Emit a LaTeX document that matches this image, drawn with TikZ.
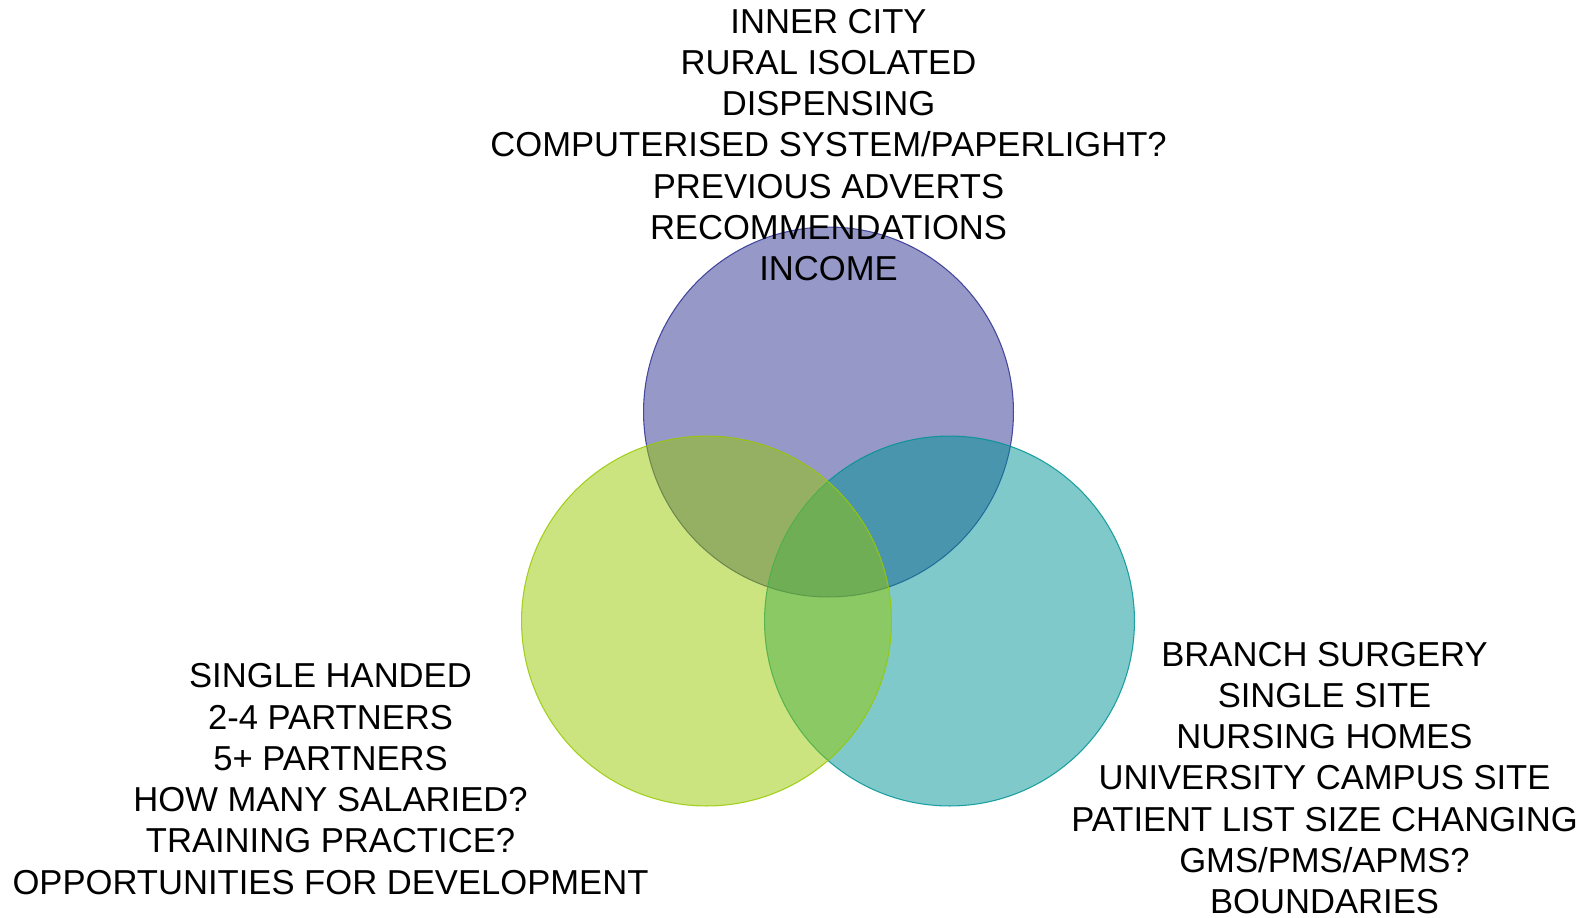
\documentclass[tikz,border=0pt]{standalone}
\usepackage{fontspec}
\setmainfont{Liberation Sans}
\usetikzlibrary{positioning}
\definecolor{plum}{HTML}{2D3191}
\definecolor{lime}{HTML}{97C900}
\definecolor{lagoon}{HTML}{009395}

\tikzset{
  disc/.style={fill=#1,draw=#1,fill opacity=.5,draw opacity=.85,line width=.6pt},
  label text/.style={align=center,font=\fontsize{19.7}{23.5}\selectfont}
}

\begin{document}
\begin{tikzpicture}[x=0.02cm,y=-0.02cm]
\useasboundingbox (0,0) rectangle (1594,917);
% three sets, top one first so the others lie over it
\path[disc=plum] (828.5,412) circle[radius=3.7cm];
\path[disc=lagoon] (949.5,621) circle[radius=3.7cm];
\path[disc=lime] (706.5,621) circle[radius=3.7cm];
% lists beside each set
\node[label text] (location) at (828.5,145) {INNER CITY\\RURAL ISOLATED\\DISPENSING\\COMPUTERISED SYSTEM/PAPERLIGHT?\\PREVIOUS ADVERTS\\RECOMMENDATIONS\\INCOME};
\node[label text] (partners) at (330.5,779) {SINGLE HANDED\\2-4 PARTNERS\\5+ PARTNERS\\HOW MANY SALARIED?\\TRAINING PRACTICE?\\OPPORTUNITIES FOR DEVELOPMENT};
\node[label text] (sites) at (1324.5,778) {BRANCH SURGERY\\SINGLE SITE\\NURSING HOMES\\UNIVERSITY CAMPUS SITE\\PATIENT LIST SIZE CHANGING\\GMS/PMS/APMS?\\BOUNDARIES};
\end{tikzpicture}
\end{document}
